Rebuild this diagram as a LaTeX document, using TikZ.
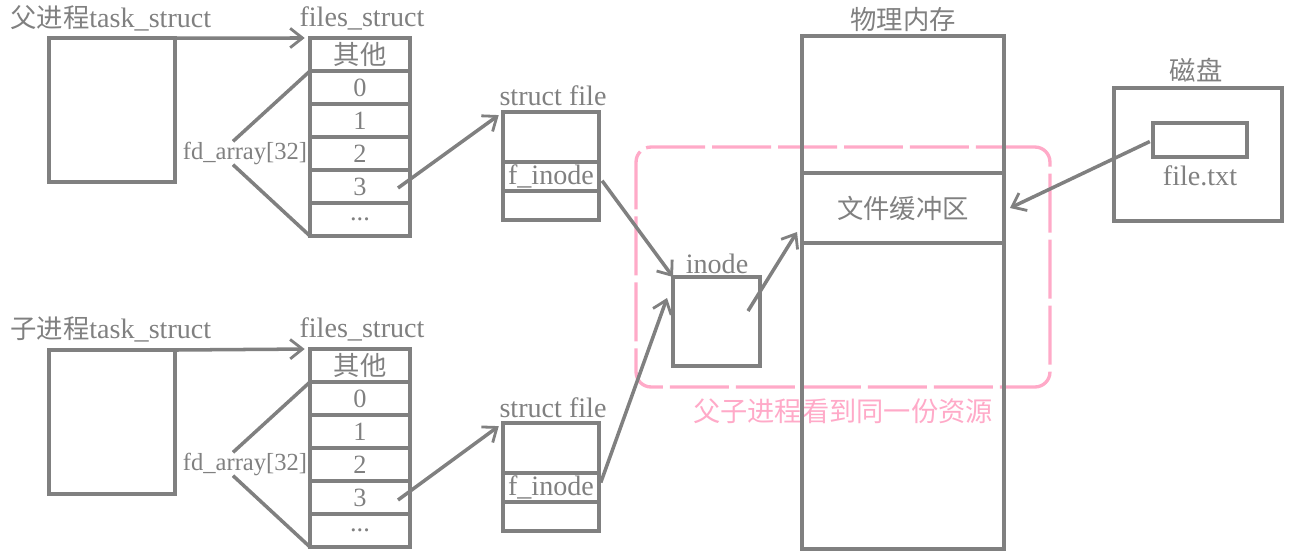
\documentclass[tikz,border=0pt]{standalone}
\usepackage{fontspec}
\usepackage{tikz}
\usetikzlibrary{arrows.meta}
\setmainfont{Liberation Serif}
\newfontfamily\cjk{Noto Sans CJK SC}
\definecolor{linegray}{RGB}{128,128,128}
\definecolor{sharepink}{RGB}{255,170,200}

\begin{document}
\begin{tikzpicture}[
    x=0.02cm, y=-0.02cm,
    box/.style={rectangle, draw=linegray, line width=2pt, inner sep=0pt, outer sep=0pt,
                font=\fontsize{16}{19}\selectfont, text=linegray},
    cell/.style={box, minimum width=2cm, minimum height=0.66cm, font=\fontsize{15}{16}\selectfont},
    filecell/.style={box, minimum width=1.92cm},
    title/.style={font=\fontsize{16}{19}\selectfont, text=linegray, inner sep=0pt},
    small/.style={font=\fontsize{14}{16}\selectfont, text=linegray, inner sep=0pt},
    link/.style={draw=linegray, line width=2pt},
    arrow/.style={link, -{Straight Barb[length=7pt,width=11pt,line width=1.6pt]}},
    shared/.style={rectangle, draw=sharepink, line width=1.9pt, rounded corners=0.3cm,
                   dash pattern=on 1.18cm off 0.14cm, minimum width=8.28cm, minimum height=4.8cm}
]
\useasboundingbox (0,0) rectangle (1295,558);

% shared area
\node[shared] (share) at (843,267) {};
\node[title, text=sharepink, font=\fontsize{15.5}{18}\selectfont] (sharelab) at (843,411) {\cjk 父子进程看到同一份资源};

% Parent process
\node[title, anchor=west] (tlab1) at (10,18) {{\cjk\fontsize{15}{18}\selectfont 父进程}task\_struct};
\node[box, minimum width=2.52cm, minimum height=2.88cm] (task1) at (112,110) {};
\node[title] (flab1) at (362,18) {files\_struct};
\node[cell] (fs1a) at (360,54.5)  {\cjk 其他};
\node[cell] (fs1b) at (360,87.5)  {0};
\node[cell] (fs1c) at (360,120.5) {1};
\node[cell] (fs1d) at (360,153.5) {2};
\node[cell] (fs1e) at (360,186.5) {3};
\node[cell] (fs1f) at (360,219.5) {...};
\node[small] (fd1) at (245,153) {fd\_array[32]};
\node[title] (slab1) at (553,96) {struct file};
\node[filecell, minimum height=1cm]    (sf1a) at (551,137)   {};
\node[filecell, minimum height=0.58cm] (sf1b) at (551,176.5) {f\_inode};
\node[filecell, minimum height=0.58cm] (sf1c) at (551,205.5) {};

% Child process
\node[title, anchor=west] (tlab2) at (10,329) {{\cjk\fontsize{15}{18}\selectfont 子进程}task\_struct};
\node[box, minimum width=2.52cm, minimum height=2.88cm] (task2) at (112,422) {};
\node[title] (flab2) at (362,329) {files\_struct};
\node[cell] (fs2a) at (360,365.5) {\cjk 其他};
\node[cell] (fs2b) at (360,398.5) {0};
\node[cell] (fs2c) at (360,431.5) {1};
\node[cell] (fs2d) at (360,464.5) {2};
\node[cell] (fs2e) at (360,497.5) {3};
\node[cell] (fs2f) at (360,530.5) {...};
\node[small] (fd2) at (245,464) {fd\_array[32]};
\node[title] (slab2) at (553,408) {struct file};
\node[filecell, minimum height=1cm]    (sf2a) at (551,448)   {};
\node[filecell, minimum height=0.58cm] (sf2b) at (551,487.5) {f\_inode};
\node[filecell, minimum height=0.58cm] (sf2c) at (551,516.5) {};

% inode, memory, disk
\node[title] (ilab) at (717,264) {inode};
\node[box, minimum width=1.74cm, minimum height=1.78cm] (inode) at (716.5,321.5) {};
\node[title, font=\cjk\fontsize{15}{18}\selectfont] (mlab) at (903,20) {物理内存};
\node[box, minimum width=4.04cm, minimum height=2.74cm] (memtop) at (903,104.5) {};
\node[box, minimum width=4.04cm, minimum height=1.4cm, font=\cjk\fontsize{15}{18}\selectfont] (buf) at (903,208) {文件缓冲区};
\node[box, minimum width=4.04cm, minimum height=6.12cm] (membot) at (903,396)   {};
\node[title, font=\cjk\fontsize{15}{18}\selectfont] (dlab) at (1196,70) {磁盘};
\node[box, minimum width=3.36cm, minimum height=2.66cm] (disk) at (1198,154.5) {};
\node[box, minimum width=1.88cm, minimum height=0.68cm] (file) at (1200,140) {};
\node[title] (filelab) at (1200,176) {file.txt};

\coordinate (row1) at (398,188);
\coordinate (row2) at (398,500);
\coordinate (inin) at (748,311);

% Arrows parent
\draw[arrow, shorten >=3pt] (task1.north east) -- (fs1a.north west);
\draw[link] ([xshift=-0.24cm]fd1.north) -- (fs1b.north west);
\draw[link] ([xshift=-0.24cm]fd1.south) -- (fs1f.south west);
\draw[arrow, shorten >=3pt] (row1) -- (sf1a.north west);
\draw[arrow, shorten <=3pt] (sf1b.east) -- (inode.north west);

% Arrows child
\draw[arrow, shorten >=3pt] (task2.north east) -- (fs2a.north west);
\draw[link] ([xshift=-0.24cm]fd2.north) -- (fs2b.north west);
\draw[link] ([xshift=-0.24cm]fd2.south) -- (fs2f.south west);
\draw[arrow, shorten >=3pt] (row2) -- (sf2a.north west);
\draw[arrow, shorten <=3pt] (sf2b.east) -- ([xshift=-0.12cm,yshift=-0.42cm]inode.north west);

% inode to memory, disk to memory
\draw[arrow] (inin) -- ([xshift=-0.1cm,yshift=0.22cm]buf.south west);
\draw[arrow, shorten <=2pt] (file.west) -- ([xshift=0.12cm]buf.east);

\end{tikzpicture}
\end{document}
